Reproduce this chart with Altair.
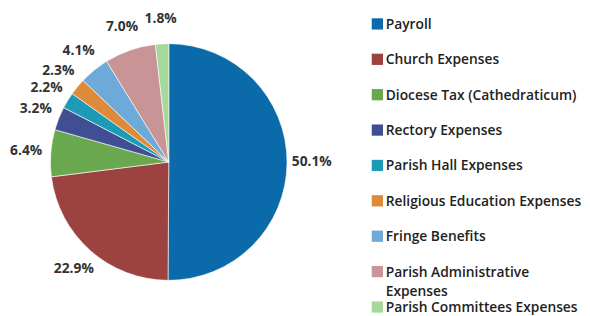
import altair as alt
import pandas as pd

categories = [
    "Payroll",
    "Church Expenses",
    "Diocese Tax (Cathedraticum)",
    "Rectory Expenses",
    "Parish Hall Expenses",
    "Religious Education Expenses",
    "Fringe Benefits",
    "Parish Administrative Expenses",
    "Parish Committees Expenses",
]
shares = [50.1, 22.9, 6.4, 3.2, 2.2, 2.3, 4.1, 7.0, 1.8]
labels = ["50.1%", "22.9%", "6.4%", "3.2%", "2.2%", "2.3%", "4.1%", "7.0%", "1.8%"]
colors = ["#0b6aa9", "#9c4241", "#6aa84f", "#404f93", "#1b9bb6",
          "#de8a3b", "#6eaad9", "#c89495", "#a5d899"]
legend_lines = [[c] for c in categories]
legend_lines[7] = ["Parish Administrative", "Expenses"]

df = pd.DataFrame({
    "cat": categories,
    "share": shares,
    "label": labels,
    "idx": list(range(len(categories))),
})
df["legend"] = legend_lines

color = alt.Color("cat:N", scale=alt.Scale(domain=categories, range=colors), legend=None)

base = alt.Chart(df).encode(
    theta=alt.Theta("share:Q", stack=True),
    order=alt.Order("idx:Q"),
)
arcs = base.mark_arc(outerRadius=120, stroke="white", strokeWidth=0.6).encode(color=color)
texts = base.mark_text(radius=145, font="Open Sans", fontSize=14, fontWeight="bold",
                       color="#333333").encode(text="label:N")
pie = (arcs + texts).properties(width=326, height=308)

leg_y = alt.Y("cat:N", scale=alt.Scale(domain=categories, type="point", padding=0,
                                       range=[14, 301]), axis=None)
squares = alt.Chart(df).mark_square(size=130, opacity=1).encode(
    y=leg_y, x=alt.value(45.5), color=color)
legend_text = alt.Chart(df).mark_text(align="left", baseline="alphabetic", font="Open Sans",
                                      fontSize=14, fontWeight=600, color="#222222",
                                      lineHeight=20, dy=5).encode(
    y=leg_y, x=alt.value(54), text="legend")
legend = (squares + legend_text).properties(width=240, height=308)

chart = alt.hconcat(pie, legend, spacing=0).properties(padding=0).configure_view(stroke=None)
chart.save("out.html", embed_options={"renderer": "svg", "actions": False})
